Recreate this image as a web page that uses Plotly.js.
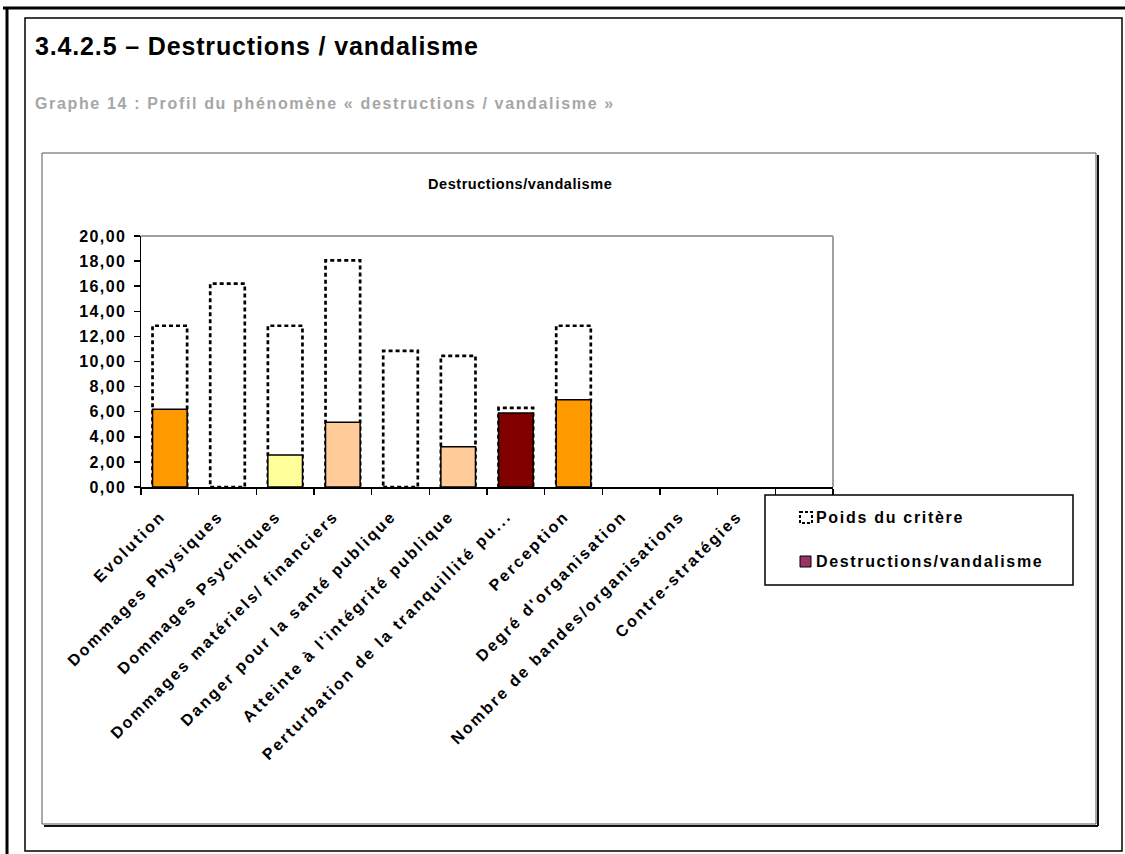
<!DOCTYPE html>
<html>
<head>
<meta charset="utf-8">
<script src="https://cdn.plot.ly/plotly-3.0.1.min.js"></script>
<style>
  html, body { margin: 0; padding: 0; background: #fff; }
  #chart { width: 1125px; height: 854px; }
  .xtick text { letter-spacing: 2.3px; }
  .ytick text { letter-spacing: 1.4px; }
</style>
</head>
<body>
<div id="chart"></div>
<script>
// ---- Data ----
const categories = [
  "Evolution",
  "Dommages Physiques",
  "Dommages Psychiques",
  "Dommages matériels/ financiers",
  "Danger pour la santé publique",
  "Atteinte à l'intégrité publique",
  "Perturbation de la tranquillité pu...",
  "Perception",
  "Degré d'organisation",
  "Nombre de bandes/organisations",
  "Contre-stratégies",
  " "
];
const poidsCritere = [12.85, 16.2, 12.85, 18.05, 10.85, 10.45, 6.3, 12.85, 0, 0, 0, 0];
const destructionsValues = [6.2, 0, 2.55, 5.15, 0, 3.2, 5.9, 6.95, 0, 0, 0, 0];
const barColors = ["#FF9900", "#FFFFFF", "#FFFF99", "#FFCC99", "#FFFFFF", "#FFCC99",
                   "#800000", "#FF9900", "#FFFFFF", "#FFFFFF", "#FFFFFF", "#FFFFFF"];
const seriesNames = ["Poids du critère", "Destructions/vandalisme"];
const legendSwatch = "#993366";
const yTickValues = [0, 2, 4, 6, 8, 10, 12, 14, 16, 18, 20];

const pageTitle = "3.4.2.5 – Destructions / vandalisme";
const pageSubtitle = "Graphe 14 : Profil du phénomène « destructions / vandalisme »";
const chartTitle = "Destructions/vandalisme";

// ---- Layout helpers (pixel -> paper) ----
const W = 1125, H = 854;
const px = x => x / W;
const py = y => 1 - y / H;
const FONT = "Liberation Sans, Arial, Helvetica, sans-serif";
const BAR_W = 0.6;

const traces = [
  {
    type: "bar",
    name: seriesNames[0],
    x: categories,
    y: poidsCritere,
    width: BAR_W,
    marker: { color: "rgba(255,255,255,0)", line: { width: 0 } },
    showlegend: false,
    hoverinfo: "x+y+name"
  },
  {
    type: "bar",
    name: seriesNames[1],
    x: categories,
    y: destructionsValues,
    width: BAR_W,
    marker: {
      color: barColors,
      line: { color: "#000000", width: destructionsValues.map(v => (v > 0 ? 1.5 : 0)) }
    },
    showlegend: false,
    hoverinfo: "x+y+name"
  }
];

const shapes = [];
// dotted outlines of the weight bars, through the axes' scales
poidsCritere.forEach((w, i) => {
  if (w > 0) {
    shapes.push({
      type: "rect", xref: "x", yref: "y", layer: "below",
      x0: i - BAR_W / 2, x1: i + BAR_W / 2, y0: 0, y1: w,
      line: { color: "#000000", width: 2.7, dash: "4px,3px" },
      fillcolor: "rgba(0,0,0,0)"
    });
  }
});
// plot area border (top / right, grey)
shapes.push({ type: "line", xref: "x domain", yref: "y domain", x0: 0, x1: 1, y0: 1, y1: 1,
  line: { color: "#a0a0a0", width: 2 } });
shapes.push({ type: "line", xref: "x domain", yref: "y domain", x0: 1, x1: 1, y0: 0, y1: 1,
  line: { color: "#a0a0a0", width: 2 } });
// page frames
shapes.push({ type: "line", xref: "paper", yref: "paper", x0: px(3), x1: px(1125), y0: py(8), y1: py(8),
  line: { color: "#000", width: 3 } });
shapes.push({ type: "line", xref: "paper", yref: "paper", x0: px(7), x1: px(7), y0: py(7), y1: py(854),
  line: { color: "#000", width: 3 } });
shapes.push({ type: "rect", xref: "paper", yref: "paper", x0: px(25), x1: px(1122), y0: py(18), y1: py(851),
  line: { color: "#000", width: 1.5 } });
// chart frame with shadow
shapes.push({ type: "rect", xref: "paper", yref: "paper", x0: px(42), x1: px(1096), y0: py(153), y1: py(824),
  line: { color: "#555", width: 1 } });
shapes.push({ type: "line", xref: "paper", yref: "paper", x0: px(44), x1: px(1098), y0: py(826), y1: py(826),
  line: { color: "#111", width: 2 } });
shapes.push({ type: "line", xref: "paper", yref: "paper", x0: px(1098), x1: px(1098), y0: py(155), y1: py(826),
  line: { color: "#111", width: 2 } });
// legend box
shapes.push({ type: "rect", xref: "paper", yref: "paper", x0: px(765), x1: px(1073), y0: py(495), y1: py(585),
  line: { color: "#000", width: 1.5 }, fillcolor: "#fff" });
shapes.push({ type: "rect", xref: "paper", yref: "paper", x0: px(800), x1: px(812), y0: py(512), y1: py(523),
  line: { color: "#000", width: 2, dash: "3px,2px" }, fillcolor: "#fff" });
shapes.push({ type: "rect", xref: "paper", yref: "paper", x0: px(800), x1: px(811), y0: py(556), y1: py(567),
  line: { color: "#000", width: 1 }, fillcolor: legendSwatch });

const sp = (txt, ls) => '<span style="letter-spacing:' + ls + 'px">' + txt + '</span>';

const annotations = [
  { text: sp("<b>" + pageTitle + "</b>", 0.85), xref: "paper", yref: "paper", x: px(33), y: py(46),
    xanchor: "left", yanchor: "middle", showarrow: false,
    font: { family: FONT, size: 25, color: "#000" } },
  { text: sp("<b>" + pageSubtitle + "</b>", 1.65), xref: "paper", yref: "paper", x: px(33), y: py(103),
    xanchor: "left", yanchor: "middle", showarrow: false,
    font: { family: FONT, size: 16, color: "#a6a6a6" } },
  { text: sp("<b>" + chartTitle + "</b>", 0.55), xref: "paper", yref: "paper", x: px(520), y: py(184),
    xanchor: "center", yanchor: "middle", showarrow: false,
    font: { family: FONT, size: 14.5, color: "#000" } },
  { text: sp("<b>" + seriesNames[0] + "</b>", 1.7), xref: "paper", yref: "paper", x: px(814), y: py(517),
    xanchor: "left", yanchor: "middle", showarrow: false,
    font: { family: FONT, size: 16, color: "#000" } },
  { text: sp("<b>" + seriesNames[1] + "</b>", 1.65), xref: "paper", yref: "paper", x: px(814), y: py(561),
    xanchor: "left", yanchor: "middle", showarrow: false,
    font: { family: FONT, size: 16, color: "#000" } }
];

const layout = {
  width: W, height: H,
  margin: { l: 0, r: 0, t: 0, b: 0 },
  paper_bgcolor: "#fff", plot_bgcolor: "#fff",
  separators: ", ",
  barmode: "overlay",
  showlegend: false,
  font: { family: FONT, color: "#000" },
  xaxis: {
    domain: [px(141), px(833)],
    type: "category",
    categoryorder: "array", categoryarray: categories,
    range: [-0.5, 11.5],
    showline: true, linecolor: "#000", linewidth: 1.5,
    ticks: "outside", tickson: "boundaries", ticklen: 6, tickcolor: "#000", tickwidth: 1.5,
    tickangle: -45,
    ticklabelstandoff: 12,
    ticklabelshift: -9,
    tickfont: { family: FONT, size: 16, color: "#000", weight: "bold" },
    showgrid: false, zeroline: false, automargin: false, fixedrange: true
  },
  yaxis: {
    domain: [py(487), py(236)],
    range: [0, 20],
    tickvals: yTickValues,
    tickformat: ".2f",
    showline: true, linecolor: "#000", linewidth: 1.5,
    ticks: "outside", ticklen: 6, tickcolor: "#000", tickwidth: 1.5,
    tickfont: { family: FONT, size: 16, color: "#000", weight: "bold" },
    ticklabelstandoff: 4,
    showgrid: false, zeroline: false, automargin: false, fixedrange: true
  },
  shapes: shapes,
  annotations: annotations
};

Plotly.newPlot("chart", traces, layout, { displayModeBar: false, staticPlot: true });
</script>
</body>
</html>
